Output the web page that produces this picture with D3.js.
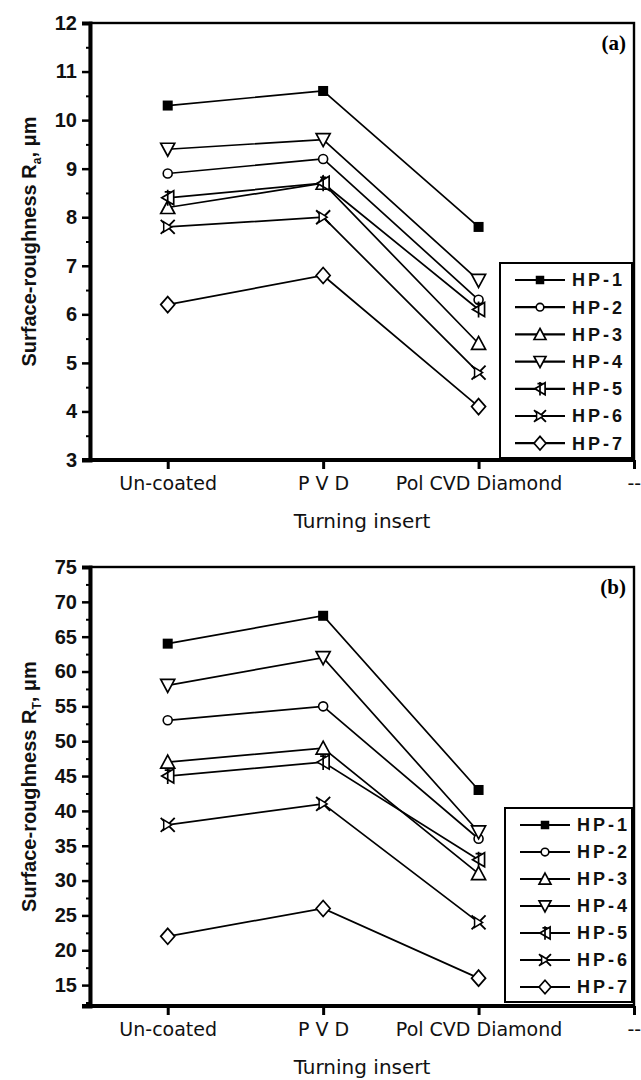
<!DOCTYPE html>
<html>
<head>
<meta charset="utf-8">
<script src="https://cdn.jsdelivr.net/npm/d3@7"></script>
<style>
  body { margin: 0; background: #fff; }
  svg { display: block; }
</style>
</head>
<body>
<div id="chart"></div>
<script>
// categories along the x axis (last one is cut off in the original)
const categories = ["Un-coated", "P V D", "Pol CVD Diamond", "--"];
const seriesNames = ["HP-1", "HP-2", "HP-3", "HP-4", "HP-5", "HP-6", "HP-7"];

// panel (a): Ra, um
const raValues = [
    [10.3, 10.6, 7.8],
    [8.9, 9.2, 6.3],
    [8.2, 8.7, 5.4],
    [9.4, 9.6, 6.7],
    [8.4, 8.7, 6.1],
    [7.8, 8.0, 4.8],
    [6.2, 6.8, 4.1]
];
const raTicks = [3, 4, 5, 6, 7, 8, 9, 10, 11, 12];

// panel (b): RT, um
const rtValues = [
    [64, 68, 43],
    [53, 55, 36],
    [47, 49, 31],
    [58, 62, 37],
    [45, 47, 33],
    [38, 41, 24],
    [22, 26, 16]
];
const rtTicks = [15, 20, 25, 30, 35, 40, 45, 50, 55, 60, 65, 70, 75];

const width = 641, height = 1080;
const plotLeft = 90, plotRight = 634;

const svg = d3.select("#chart").append("svg")
    .attr("width", width)
    .attr("height", height);

const x = d3.scaleLinear().domain([0.5, 4]).range([plotLeft, plotRight]);

// marker shapes, drawn around 0,0
const markerTypes = ["square", "circle", "triUp", "triDown", "triLeftCross", "xBow", "diamond"];

function drawMarker(g, type, size) {
    const s = size || 1;
    if (type === "square") {
        g.append("rect").attr("x", -5 * s).attr("y", -5 * s).attr("width", 10 * s).attr("height", 10 * s)
            .attr("fill", "#000");
    } else if (type === "circle") {
        g.append("circle").attr("r", 4.5 * s).attr("fill", "#fff").attr("stroke", "#000").attr("stroke-width", 1.6);
    } else if (type === "triUp") {
        g.append("path").attr("d", `M0,${-7*s} L${7*s},${6*s} L${-7*s},${6*s} Z`)
            .attr("fill", "#fff").attr("stroke", "#000").attr("stroke-width", 1.7);
    } else if (type === "triDown") {
        g.append("path").attr("d", `M0,${7*s} L${7*s},${-6*s} L${-7*s},${-6*s} Z`)
            .attr("fill", "#fff").attr("stroke", "#000").attr("stroke-width", 1.7);
    } else if (type === "triLeftCross") {
        g.append("path").attr("d", `M${-6*s},0 L${6*s},${-7*s} L${6*s},${7*s} Z`)
            .attr("fill", "#fff").attr("stroke", "#000").attr("stroke-width", 1.7);
        g.append("path").attr("d", `M0,${-8*s} L0,${8*s} M${-3*s},${-6*s} L${3*s},${-6*s}`)
            .attr("stroke", "#000").attr("stroke-width", 1.7);
    } else if (type === "xBow") {
        g.append("path").attr("d", `M${-7*s},${-7*s} L${7*s},${7*s} M${7*s},${-7*s} L${-7*s},${7*s}`)
            .attr("stroke", "#000").attr("stroke-width", 1.9);
        g.append("path").attr("d", `M${-4*s},${-5*s} L${4*s},0 L${-4*s},${5*s} Z`)
            .attr("fill", "#fff").attr("stroke", "#000").attr("stroke-width", 1.5);
    } else if (type === "diamond") {
        g.append("path").attr("d", `M0,${-8*s} L${7*s},0 L0,${8*s} L${-7*s},0 Z`)
            .attr("fill", "#fff").attr("stroke", "#000").attr("stroke-width", 1.7);
    }
}

function drawPanel(cfg) {
    const y = d3.scaleLinear().domain(cfg.domain).range([cfg.bottom, cfg.top]);
    const g = svg.append("g");

    // frame: thin top/right, thick left/bottom
    g.append("rect")
        .attr("x", plotLeft).attr("y", cfg.top)
        .attr("width", plotRight - plotLeft).attr("height", cfg.bottom - cfg.top)
        .attr("fill", "none").attr("stroke", "#000").attr("stroke-width", 2.4);

    // minor ticks on y axis
    g.append("g")
        .attr("transform", `translate(${plotLeft},0)`)
        .call(d3.axisLeft(y).tickValues(cfg.minorTicks).tickSize(4).tickFormat(""))
        .call(a => a.select(".domain").remove())
        .selectAll("line").attr("stroke-width", 2);

    // major y axis
    const yAxis = g.append("g")
        .attr("transform", `translate(${plotLeft},0)`)
        .call(d3.axisLeft(y).tickValues(cfg.ticks).tickSize(8).tickPadding(5));
    yAxis.select(".domain").attr("stroke-width", 4);
    yAxis.selectAll("line").attr("stroke-width", 2.5);
    yAxis.selectAll("text")
        .attr("font-family", "'Liberation Sans Narrow', 'Liberation Sans', Arial, sans-serif")
        .attr("font-weight", "bold")
        .attr("font-size", 20)
        .attr("fill", "#111");

    // x axis
    const xAxis = g.append("g")
        .attr("transform", `translate(0,${cfg.bottom})`)
        .call(d3.axisBottom(x).tickValues([1, 2, 3, 4]).tickSize(9).tickPadding(8)
            .tickFormat((d, i) => categories[i]));
    xAxis.select(".domain").attr("stroke-width", 4)
        .attr("d", `M${plotLeft - 8},0H${plotRight}`);
    xAxis.selectAll("line").attr("stroke-width", 3);
    xAxis.selectAll("text")
        .attr("font-family", "'DejaVu Sans', sans-serif")
        .attr("font-size", 19)
        .attr("fill", "#111");
    // the trailing label is clipped in the original; keep it just inside the page
    xAxis.selectAll(".tick").filter(d => d === 4).select("text")
        .attr("text-anchor", "start").attr("x", -7);

    // axis titles
    g.append("text")
        .attr("x", (plotLeft + plotRight) / 2)
        .attr("y", cfg.bottom + 68)
        .attr("text-anchor", "middle")
        .attr("font-family", "'DejaVu Sans', sans-serif")
        .attr("font-size", 20)
        .attr("fill", "#111")
        .text("Turning insert");

    const ylab = g.append("text")
        .attr("transform", `translate(36,${(cfg.top + cfg.bottom) / 2}) rotate(-90)`)
        .attr("text-anchor", "middle")
        .attr("font-family", "'Liberation Sans', Arial, sans-serif")
        .attr("font-weight", "bold")
        .attr("font-size", 20)
        .attr("fill", "#111");
    ylab.append("tspan").text("Surface-roughness R");
    ylab.append("tspan").attr("font-size", 12).attr("dy", 5).text(cfg.sub);
    ylab.append("tspan").attr("dy", -5).text(", \u03bcm");

    // panel tag
    g.append("text")
        .attr("x", plotRight - 8).attr("y", cfg.top + 27)
        .attr("text-anchor", "end")
        .attr("font-family", "'Liberation Serif', 'Times New Roman', serif")
        .attr("font-weight", "bold")
        .attr("font-size", 21)
        .text(cfg.tag);

    const line = d3.line()
        .x((d, i) => x(i + 1))
        .y(d => y(d));

    cfg.values.forEach(vals => {
        g.append("path")
            .attr("d", line(vals))
            .attr("fill", "none")
            .attr("stroke", "#000")
            .attr("stroke-width", 1.7);
    });
    cfg.values.forEach((vals, k) => {
        vals.forEach((v, i) => {
            const m = g.append("g").attr("transform", `translate(${x(i + 1)},${y(v)})`);
            drawMarker(m, markerTypes[k]);
        });
    });

    // legend
    const lg = g.append("g");
    lg.append("rect")
        .attr("x", cfg.legend.x).attr("y", cfg.legend.y)
        .attr("width", plotRight - 2 - cfg.legend.x).attr("height", cfg.legend.h)
        .attr("fill", "#fff").attr("stroke", "#000").attr("stroke-width", 2);
    seriesNames.forEach((name, k) => {
        const ly = cfg.legend.first + k * cfg.legend.step;
        lg.append("line")
            .attr("x1", cfg.legend.x + 15).attr("x2", cfg.legend.x + 65)
            .attr("y1", ly).attr("y2", ly)
            .attr("stroke", "#000").attr("stroke-width", 2.2);
        const m = lg.append("g").attr("transform", `translate(${cfg.legend.x + 40},${ly})`);
        drawMarker(m, markerTypes[k], 0.85);
        lg.append("text")
            .attr("x", cfg.legend.x + 72).attr("y", ly)
            .attr("dy", "0.36em")
            .attr("font-family", "'Liberation Sans Narrow', 'Liberation Sans', Arial, sans-serif")
            .attr("font-weight", "bold")
            .attr("font-size", 18)
            .attr("letter-spacing", 3)
            .attr("fill", "#111")
            .text(name);
    });
}

drawPanel({
    top: 23, bottom: 460, domain: [3, 12],
    ticks: raTicks,
    minorTicks: d3.range(3.5, 12, 1),
    values: raValues, sub: "a", tag: "(a)",
    legend: {x: 500, y: 263, h: 195, first: 280, step: 27.2}
});

drawPanel({
    top: 567, bottom: 1006, domain: [12, 75],
    ticks: rtTicks,
    minorTicks: d3.range(12.5, 75, 5),
    values: rtValues, sub: "T", tag: "(b)",
    legend: {x: 505, y: 808, h: 194, first: 825, step: 27}
});
</script>
</body>
</html>
